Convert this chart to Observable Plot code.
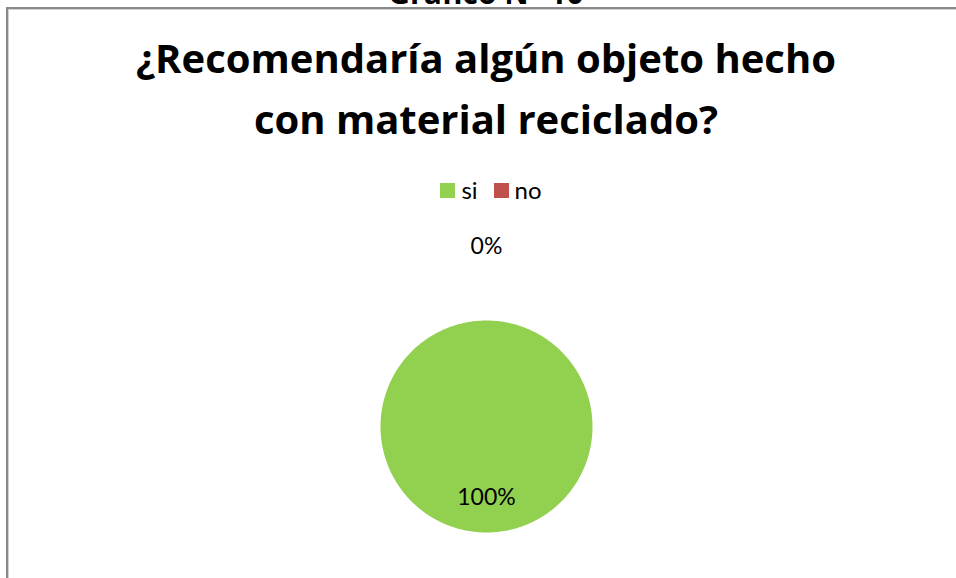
<!DOCTYPE html>
<html>
<head>
<meta charset="utf-8">
<script src="https://cdn.jsdelivr.net/npm/d3@7"></script>
<script src="https://cdn.jsdelivr.net/npm/@observablehq/plot@0.6"></script>
<style>
  html, body { margin: 0; padding: 0; background: #fff; width: 956px; height: 578px; overflow: hidden; }
  body { position: relative; font-family: Lato, "Open Sans", sans-serif; color: #000; }
  #frame { position: absolute; left: 6px; top: 7px; width: 1000px; height: 1000px;
           border-left: 2px solid #8a8a8a; border-top: 2px solid #8a8a8a;
           box-shadow: inset 1px 1px 0 #d0d0d0; }
  #caption { position: absolute; left: 0; top: -32px; width: 972px; text-align: center;
             font: bold 30px/50px "Open Sans", sans-serif; }
  #title { position: absolute; left: 0; top: 27px; width: 972px; text-align: center;
           font: bold 40px/61px "Open Sans", sans-serif; }
  #legend { position: absolute; left: 0; top: 174px; width: 982px; display: flex; justify-content: center;
            font: 24px/32px Lato, sans-serif; }
  #legend .item { display: flex; align-items: center; margin: 0 8px; }
  #legend .sw { width: 15px; height: 15px; margin-right: 6px; }
  #chart { position: absolute; left: 0; top: 205px; }
</style>
</head>
<body>
<div id="frame"></div>
<div id="caption">Gráfico N° 10</div>
<div id="title">¿Recomendaría algún objeto hecho<br>con material reciclado?</div>
<div id="legend"></div>
<div id="chart"></div>
<script>
const categories = ["si", "no"];
const values = [100, 0];
const colors = ["#92D050", "#C0504D"];

const total = d3.sum(values);
const arcs = d3.pie().sort(null).value(d => d)(values);

// Slice outlines as polygons in unit-circle coordinates (angle 0 at 12 o'clock, clockwise)
const slicePoints = [];
arcs.forEach((a, i) => {
  const span = a.endAngle - a.startAngle;
  const n = Math.max(2, Math.ceil(span / (2 * Math.PI) * 360));
  slicePoints.push({cat: categories[i], x: 0, y: 0});
  for (let k = 0; k <= n; k++) {
    const t = a.startAngle + span * k / n;
    slicePoints.push({cat: categories[i], x: Math.sin(t), y: Math.cos(t)});
  }
});

// Data labels: large slices inside, tiny slices outside
const labelData = arcs.map((a, i) => {
  const share = values[i] / total;
  const mid = (a.startAngle + a.endAngle) / 2;
  const r = share > 0.05 ? 0.67 : 1.70;
  return {cat: categories[i], x: r * Math.sin(mid), y: r * Math.cos(mid), text: d3.format(".0%")(share)};
});

// Legend
const legend = document.getElementById("legend");
categories.forEach((c, i) => {
  const item = document.createElement("div");
  item.className = "item";
  const sw = document.createElement("div");
  sw.className = "sw";
  sw.style.background = colors[i];
  const lab = document.createElement("span");
  lab.textContent = c;
  item.appendChild(sw);
  item.appendChild(lab);
  legend.appendChild(item);
});

const chart = Plot.plot({
  width: 956,
  height: 373,
  marginLeft: 380,
  marginRight: 364,
  marginTop: 115,
  marginBottom: 46,
  style: {background: "transparent", overflow: "visible"},
  x: {domain: [-1, 1], axis: null},
  y: {domain: [-1, 1], axis: null},
  color: {domain: categories, range: colors},
  marks: [
    Plot.line(slicePoints, {x: "x", y: "y", z: "cat", fill: "cat", stroke: "none", curve: "linear"}),
    Plot.text(labelData, {x: "x", y: "y", text: "text", fill: "black", fontSize: 23,
                          fontFamily: "Lato, sans-serif", textAnchor: "middle", lineAnchor: "middle"})
  ]
});
document.getElementById("chart").appendChild(chart);
</script>
</body>
</html>
